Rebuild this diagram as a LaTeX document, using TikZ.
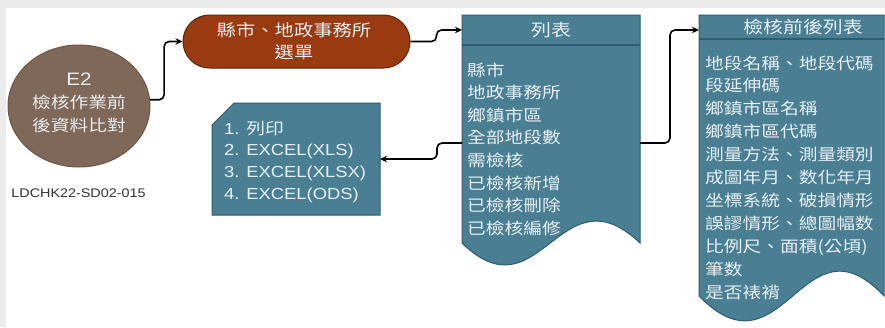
\documentclass[tikz,border=0pt]{standalone}
\usepackage{fontspec}
\setmainfont{Liberation Sans}[FakeStretch=1.15]
\newfontfamily\cjk{Noto Sans CJK TC}[FakeStretch=1.17]
\usetikzlibrary{shapes.geometric,arrows.meta}
\definecolor{tealfill}{HTML}{4A7F93}
\definecolor{tealdraw}{HTML}{2D5D6F}
\definecolor{redfill}{HTML}{9A3A10}
\definecolor{reddraw}{HTML}{5C2409}
\definecolor{circfill}{HTML}{806858}
\definecolor{circdraw}{HTML}{6B574A}
\definecolor{textlight}{HTML}{E8EFF2}
\definecolor{labelgray}{HTML}{333333}
\definecolor{bggray}{HTML}{EBEBEB}
\begin{document}
\begin{tikzpicture}[x=1pt,y=-1pt,
  tealbox/.style={fill=tealfill, draw=tealdraw, line width=1pt},
  hdrline/.style={draw=tealdraw, line width=1.2pt},
  boxtext/.style={text=textlight, inner sep=0},
  bodyline/.style={boxtext, anchor=west, font=\cjk\fontsize{16}{20}\selectfont, text height=13pt, text depth=1pt},
  exline/.style={boxtext, anchor=west, font=\fontsize{16}{20}\selectfont, text height=12pt, text depth=0pt},
  hdrtext/.style={boxtext, font=\cjk\fontsize{17}{20}\selectfont},
  ghost/.style={inner sep=0, outer sep=0},
  conn/.style={draw=black, line width=1.6pt, rounded corners=5pt, -{Stealth[length=7pt,width=6.5pt]}}
]
\useasboundingbox (0,0) rectangle (885,327);
\fill[white] (0,0) rectangle (885,327);
\fill[bggray] (0,0) rectangle (885,8);
\fill[bggray] (0,0) rectangle (6,327);

% start circle
\node[ellipse, fill=circfill, draw=circdraw, line width=1pt, minimum width=142pt, minimum height=122pt, inner sep=0] (c) at (79,106) {};
\node[boxtext, align=center, font=\fontsize{16}{23}\selectfont] (ct) at (79,103) {{\fontsize{18}{23}\selectfont E2}\\{\cjk 檢核作業前}\\{\cjk 後資料比對}};
\node[inner sep=0, text=labelgray, font=\fontsize{12.5}{14}\selectfont] (lab) at (78.5,193) {LDCHK22-SD02-015};

% selection menu
\node[rectangle, rounded corners=26.5pt, fill=redfill, draw=reddraw, line width=1pt, minimum width=227pt, minimum height=53pt, inner sep=0] (s) at (296.5,41.5) {};
\node[boxtext, align=center, font=\cjk\fontsize{16.5}{22}\selectfont] (st) at (294,41) {縣市、地政事務所\\選單};

% list box
\node[ghost, minimum width=178pt, minimum height=256pt] (l) at (551,143) {};
\filldraw[tealbox] (462,15) -- (640,15) -- (640,243) .. controls (560,167) and (540,319) .. (462,243) -- cycle;
\draw[hdrline] (462,45) -- (640,45);
\node[hdrtext] (lh) at (551,30) {列表};
\foreach \t [count=\i] in {縣市,地政事務所,鄉鎮市區,全部地段數,需檢核,已檢核新增,已檢核刪除,已檢核編修}
  \node[bodyline] (lt\i) at (467,{70+22.6*(\i-1)}) {\t};

% export box
\node[ghost, minimum width=168pt, minimum height=112pt] (e) at (296,159) {};
\filldraw[tealbox] (212,125) -- (234,103) -- (380,103) -- (380,215) -- (212,215) -- cycle;
\foreach \t [count=\i] in {{1. {\cjk 列印}},{2. EXCEL(XLS)},{3. EXCEL(XLSX)},{4. EXCEL(ODS)}}
  \node[exline] (et\i) at (224,{128+21.7*(\i-1)}) {\t};

% before/after list box
\node[ghost, minimum width=185pt, minimum height=30pt] (r) at (791.5,30) {};
\filldraw[tealbox] (699,15) -- (884,15) -- (884,296) .. controls (803,210) and (783,382) .. (699,296) -- cycle;
\draw[hdrline] (699,39) -- (884,39);
\node[hdrtext] (rh) at (803,27) {檢核前後列表};
\foreach \t [count=\i] in {地段名稱、地段代碼,段延伸碼,鄉鎮市區名稱,鄉鎮市區代碼,測量方法、測量類別,成圖年月、数化年月,坐標系統、破損情形,誤謬情形、總圖幅数,比例尺、面積(公頃),筆数,是否裱褙}
  \node[bodyline] (rt\i) at (705,{63+22.9*(\i-1)}) {\t};

% connectors
\draw[conn] (c.5) -- ++(14,0) |- (s.west);
\draw[conn] (s.east) -- ++(26,0) |- (l.west |- lh);
\draw[conn] (l.west) -- ++(-25,0) |- (e.east);
\draw[conn] (l.east) -- ++(30,0) |- (r.west);
\end{tikzpicture}
\end{document}
